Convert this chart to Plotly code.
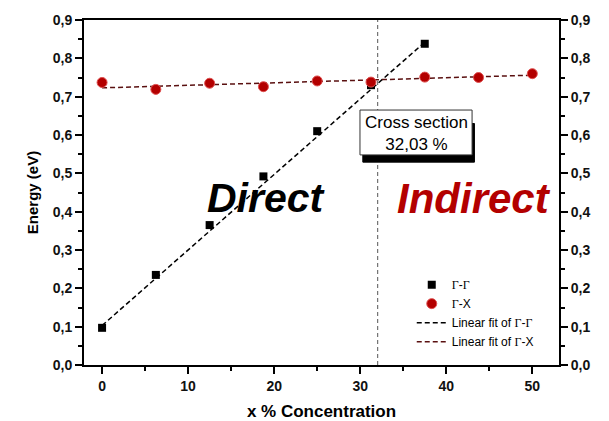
import plotly.graph_objects as go

# Data
x_gg = [0, 6.25, 12.5, 18.75, 25, 31.25, 37.5]
e_gg = [0.097, 0.235, 0.365, 0.492, 0.61, 0.73, 0.838]
x_gx = [0, 6.25, 12.5, 18.75, 25, 31.25, 37.5, 43.75, 50]
e_gx = [0.737, 0.719, 0.735, 0.726, 0.741, 0.738, 0.751, 0.75, 0.76]
fit_gg_x = [0, 37.5]
fit_gg_y = [0.103, 0.842]
fit_gx_x = [0, 50]
fit_gx_y = [0.723, 0.756]
cross_x = 32.03
y_ticks = [0.0, 0.1, 0.2, 0.3, 0.4, 0.5, 0.6, 0.7, 0.8, 0.9]
x_ticks = [0, 10, 20, 30, 40, 50]

RED = "#b30000"
FITRED = "#5a1010"
FONT = "Liberation Sans, Arial, sans-serif"
DASH = "5px,3px"
G = '<span style="font-family:Liberation Serif, Times New Roman, serif">Γ</span>'

fig = go.Figure()
fig.add_trace(go.Scatter(x=fit_gg_x, y=fit_gg_y, mode="lines", name="Linear fit of Γ-Γ",
                         line=dict(color="black", width=1.5, dash=DASH), showlegend=False))
fig.add_trace(go.Scatter(x=fit_gx_x, y=fit_gx_y, mode="lines", name="Linear fit of Γ-X",
                         line=dict(color=FITRED, width=1.5, dash=DASH), showlegend=False))
fig.add_trace(go.Scatter(x=x_gg, y=e_gg, mode="markers", name=f"{G}-{G}",
                         marker=dict(symbol="square", size=8, color="black")))
fig.add_trace(go.Scatter(x=x_gx, y=e_gx, mode="markers", name=f"{G}-X",
                         marker=dict(symbol="circle", size=10, color=RED,
                                     line=dict(color="#e05050", width=1))))
# legend entries for fits (ordered after markers)
fig.add_trace(go.Scatter(x=[None], y=[None], mode="lines", name=f"Linear fit of {G}-{G}",
                         line=dict(color="black", width=1.5, dash=DASH)))
fig.add_trace(go.Scatter(x=[None], y=[None], mode="lines", name=f"Linear fit of {G}-X",
                         line=dict(color=FITRED, width=1.5, dash=DASH)))
# dummy trace for right axis
fig.add_trace(go.Scatter(x=[None], y=[None], yaxis="y2", showlegend=False))

# vertical cross-section line
fig.add_shape(type="line", x0=cross_x, x1=cross_x, y0=0, y1=0.9, xref="x", yref="y",
              line=dict(color="#555555", width=1, dash="4px,3px"), layer="below")

# Cross section box with shadow
fig.add_shape(type="rect", xref="paper", yref="paper", x0=0.587, x1=0.822, y0=0.588, y1=0.70,
              fillcolor="black", line=dict(color="black", width=1))
fig.add_shape(type="rect", xref="paper", yref="paper", x0=0.581, x1=0.817, y0=0.609, y1=0.739,
              fillcolor="white", line=dict(color="#333333", width=1))
fig.add_annotation(xref="paper", yref="paper", x=0.699, y=0.672, xanchor="center", yanchor="middle",
                   showarrow=False, text="Cross section<br>32,03 %",
                   font=dict(family=FONT, size=17, color="black"))

# Big labels
fig.add_annotation(xref="paper", yref="paper", x=0.385, y=0.484, xanchor="center", yanchor="middle",
                   showarrow=False, text="<b><i>Direct</i></b>",
                   font=dict(family=FONT, size=41, color="black"))
fig.add_annotation(xref="paper", yref="paper", x=0.822, y=0.484, xanchor="center", yanchor="middle",
                   showarrow=False, text="<b><i>Indirect</i></b>",
                   font=dict(family=FONT, size=42, color=RED))

axis_common = dict(showline=True, linecolor="black", linewidth=2, ticks="outside",
                   ticklen=7, tickwidth=1.5, tickcolor="black", showgrid=False, zeroline=False,
                   automargin=False,
                   tickfont=dict(family=FONT, size=14, color="#111111", weight="bold"))

fig.update_layout(
    width=609, height=421,
    margin=dict(l=76, r=58, t=12, b=64),
    plot_bgcolor="white", paper_bgcolor="white",
    separators=",.",
    xaxis=dict(range=[-2.1, 53.1], tickvals=x_ticks, mirror=True,
               minor=dict(ticks="outside", ticklen=4, tickcolor="black", dtick=5, tick0=5),
               title=dict(text="<b>x % Concentration</b>", font=dict(family=FONT, size=17, color="black"),
                          standoff=12),
               **axis_common),
    yaxis=dict(range=[0, 0.9], tickvals=y_ticks, tickformat=".1f",
               minor=dict(ticks="outside", ticklen=4, tickcolor="black", dtick=0.05, tick0=0.05),
               title=dict(text="<b>Energy (eV)</b>", font=dict(family=FONT, size=15, color="black"),
                          standoff=10),
               **axis_common),
    yaxis2=dict(range=[0, 0.9], tickvals=y_ticks, tickformat=".1f", overlaying="y", side="right",
                minor=dict(ticks="outside", ticklen=4, tickcolor="black", dtick=0.05, tick0=0.05),
                **axis_common),
    legend=dict(x=0.69, y=0.275, xanchor="left", yanchor="top", bgcolor="rgba(255,255,255,0)",
                font=dict(family=FONT, size=12, color="black"), tracegroupgap=0,
                itemwidth=30),
    showlegend=True,
)

fig.write_html("out.html")
